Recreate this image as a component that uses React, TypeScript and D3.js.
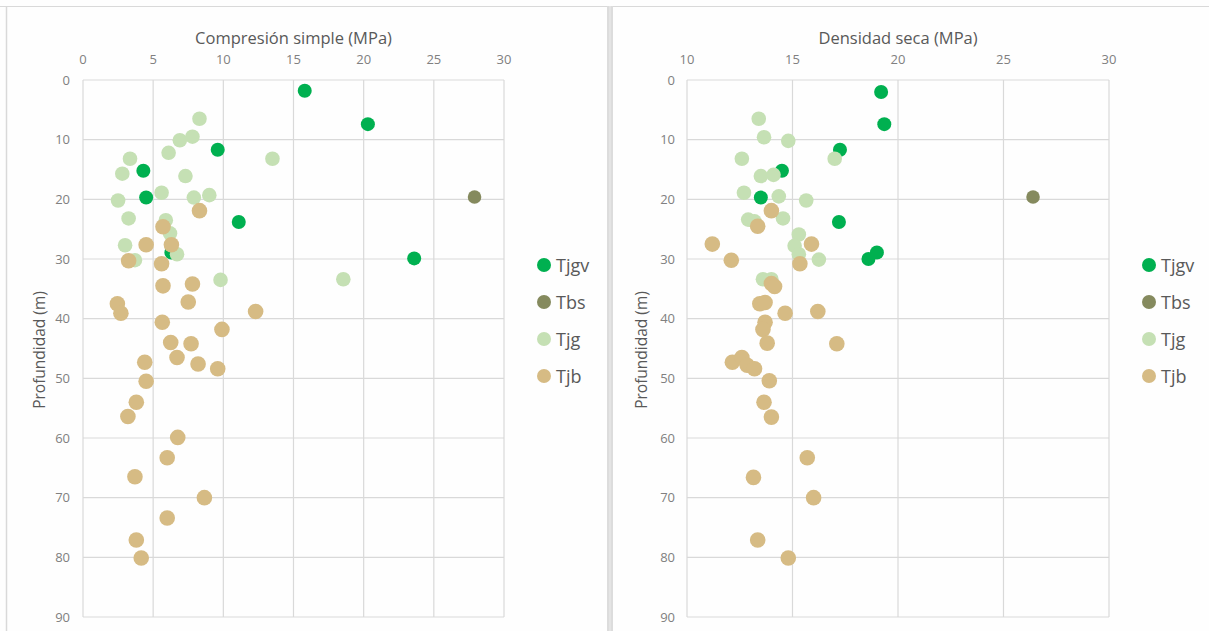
import React from "react";
import * as d3 from "d3";

// [valor, profundidad (m)]
const compTjgv: [number, number][] = [
  [15.8, 1.8], [20.3, 7.4], [9.6, 11.7], [4.3, 15.2], [4.5, 19.7],
  [11.1, 23.8], [6.3, 28.9], [23.6, 29.9],
];
const compTbs: [number, number][] = [[27.9, 19.6]];
const compTjg: [number, number][] = [
  [8.3, 6.5], [6.9, 10.1], [7.8, 9.5], [6.1, 12.2], [3.35, 13.2], [13.5, 13.2],
  [2.8, 15.7], [7.3, 16.1], [5.6, 18.9], [9.0, 19.3], [7.9, 19.7], [2.5, 20.2],
  [3.25, 23.2], [5.9, 23.5], [6.2, 25.7], [3.0, 27.7], [6.7, 29.2], [3.7, 30.2],
  [9.8, 33.5], [18.55, 33.4],
];
const compTjb: [number, number][] = [
  [8.3, 21.9], [5.7, 24.6], [4.5, 27.6], [6.3, 27.6], [3.25, 30.3], [5.6, 30.8],
  [5.7, 34.5], [7.8, 34.2], [7.5, 37.2], [2.45, 37.5], [12.3, 38.8], [2.7, 39.1],
  [5.65, 40.6], [9.9, 41.8], [6.25, 44.0], [7.7, 44.2], [6.7, 46.5], [4.4, 47.3],
  [8.2, 47.6], [9.6, 48.4], [4.5, 50.5], [3.8, 54.0], [3.2, 56.4], [6.75, 59.9],
  [6.0, 63.3], [3.7, 66.5], [8.65, 70.0], [6.0, 73.4], [3.8, 77.1], [4.15, 80.1],
];

const densTjgv: [number, number][] = [
  [19.2, 2.0], [19.35, 7.4], [17.25, 11.7], [14.5, 15.2], [13.5, 19.7],
  [17.2, 23.8], [19.0, 28.9], [18.6, 30.0],
];
const densTbs: [number, number][] = [[26.4, 19.6]];
const densTjg: [number, number][] = [
  [13.4, 6.5], [13.65, 9.6], [14.8, 10.2], [12.6, 13.2], [17.0, 13.2],
  [13.5, 16.1], [14.1, 15.9], [12.7, 18.9], [14.35, 19.5], [15.65, 20.2],
  [12.9, 23.4], [13.2, 23.7], [14.55, 23.2], [15.3, 25.9], [15.1, 27.8],
  [15.3, 29.2], [16.25, 30.1], [13.6, 33.4], [14.0, 33.4],
];
const densTjb: [number, number][] = [
  [14.0, 21.9], [13.35, 24.5], [11.2, 27.5], [15.9, 27.5], [12.1, 30.2],
  [15.35, 30.8], [14.0, 34.1], [14.15, 34.6], [13.45, 37.5], [13.7, 37.3],
  [14.65, 39.1], [16.2, 38.8], [13.7, 40.6], [13.6, 41.8], [13.8, 44.1],
  [17.1, 44.2], [12.15, 47.3], [12.6, 46.5], [12.85, 47.8], [13.2, 48.4],
  [13.9, 50.4], [13.65, 54.0], [14.0, 56.5], [15.7, 63.3], [13.15, 66.6],
  [16.0, 70.0], [13.35, 77.1], [14.8, 80.1],
];

const seriesNames = ["Tjgv", "Tbs", "Tjg", "Tjb"];
const seriesColors = ["#00b050", "#858a5e", "#c5e0b4", "#d6bb84"];
const seriesRadius = [7, 6.8, 7.3, 7.8];

const xTicksComp = [0, 5, 10, 15, 20, 25, 30];
const xTicksDens = [10, 15, 20, 25, 30];
const yTicks = [0, 10, 20, 30, 40, 50, 60, 70, 80, 90];

const FONT = "'Open Sans', 'Noto Sans', sans-serif";
const GRID = "#d9d9d9";
const TXT = "#595959";
const TICK = "#808080";

type Panel = {
  title: string;
  domain: [number, number];
  range: [number, number];
  xTicks: number[];
  series: [number, number][][];
  yLabelX: number;
  yTitleX: number;
  legendX: number;
};

function Scatter({ p }: { p: Panel }) {
  const x = d3.scaleLinear().domain(p.domain).range(p.range);
  const y = d3.scaleLinear().domain([0, 90]).range([80, 617]);
  const [x0, x1] = p.range;

  return (
    <g>
      {yTicks.map((t) => (
        <line key={"h" + t} x1={x0} x2={x1} y1={y(t)} y2={y(t)} stroke={GRID} strokeWidth={1.2} />
      ))}
      {p.xTicks.map((t) => (
        <line key={"v" + t} x1={x(t)} x2={x(t)} y1={y(0)} y2={y(90)} stroke={GRID} strokeWidth={1.2} />
      ))}
      {p.xTicks.map((t) => (
        <text key={"xt" + t} x={x(t)} y={64} textAnchor="middle" fontSize={13} fill={TICK} fontFamily={FONT}>
          {t}
        </text>
      ))}
      {yTicks.map((t) => (
        <text key={"yt" + t} x={p.yLabelX} y={y(t) + 4.5} textAnchor="end" fontSize={13} fill={TICK} fontFamily={FONT}>
          {t}
        </text>
      ))}
      <text x={(x0 + x1) / 2} y={44} textAnchor="middle" fontSize={16.5} fill={TXT} fontFamily={FONT}>
        {p.title}
      </text>
      <text
        transform={`translate(${p.yTitleX},${350}) rotate(-90)`}
        textAnchor="middle"
        fontSize={15.5}
        fill={TXT}
        fontFamily={FONT}
      >
        Profundidad (m)
      </text>
      {p.series.map((s, i) => (
        <g key={"s" + i}>
          {s.map((d, j) => (
            <circle key={j} cx={x(d[0])} cy={y(d[1])} r={seriesRadius[i]} fill={seriesColors[i]} />
          ))}
        </g>
      ))}
      {seriesNames.map((n, i) => (
        <g key={"l" + n} transform={`translate(${p.legendX},${265 + i * 37})`}>
          <circle cx={0} cy={0} r={7} fill={seriesColors[i]} />
          <text x={12} y={6.5} fontSize={18} fill={TXT} fontFamily={FONT}>
            {n}
          </text>
        </g>
      ))}
    </g>
  );
}

export default function App() {
  const W = 1209;
  const H = 631;
  const left: Panel = {
    title: "Compresión simple (MPa)",
    domain: [0, 30],
    range: [83, 504],
    xTicks: xTicksComp,
    series: [compTjgv, compTbs, compTjg, compTjb],
    yLabelX: 70,
    yTitleX: 45,
    legendX: 544,
  };
  const right: Panel = {
    title: "Densidad seca (MPa)",
    domain: [10, 30],
    range: [687, 1109],
    xTicks: xTicksDens,
    series: [densTjgv, densTbs, densTjg, densTjb],
    yLabelX: 675,
    yTitleX: 647,
    legendX: 1149,
  };

  return (
    <div style={{ position: "fixed", left: 0, top: 0 }}>
      <svg width={W} height={H} style={{ display: "block", background: "#fefefe" }}>
        <line x1={0} x2={W} y1={6.5} y2={6.5} stroke={GRID} strokeWidth={1} />
        <line x1={6.5} x2={6.5} y1={6} y2={H} stroke={GRID} strokeWidth={1.5} />
        <rect x={607} y={6} width={6} height={H} fill="#dcdcdc" />
        <line x1={610} x2={610} y1={6} y2={H} stroke="#ececec" strokeWidth={1} />
        <Scatter p={left} />
        <Scatter p={right} />
      </svg>
    </div>
  );
}
